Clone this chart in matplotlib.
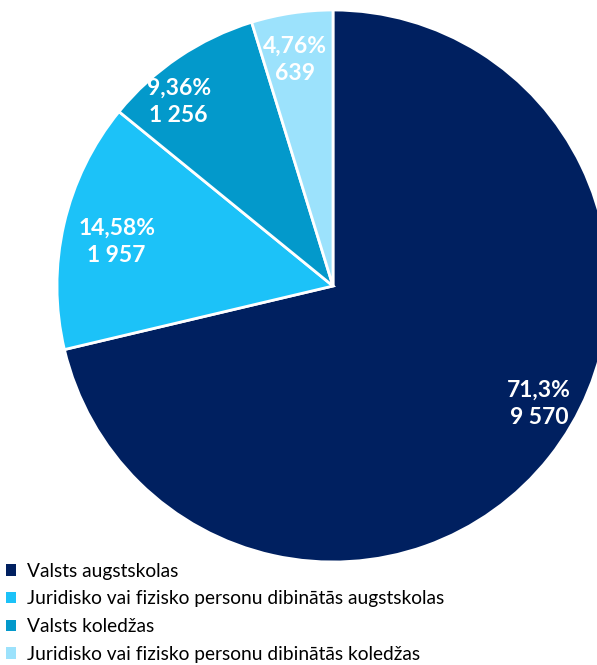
import matplotlib.pyplot as plt
import numpy as np
from matplotlib.patches import Patch

categories = ["Valsts augstskolas",
              "Juridisko vai fizisko personu dibinātās augstskolas",
              "Valsts koledžas",
              "Juridisko vai fizisko personu dibinātās koledžas"]
counts = [9570, 1957, 1256, 639]
pct_labels = ["71,3%", "14,58%", "9,36%", "4,76%"]
count_labels = ["9 570", "1 957", "1 256", "639"]
colors = ["#002060", "#1CC2F8", "#0399CB", "#9CE2FC"]

plt.rcParams['font.family'] = ['Lato', 'DejaVu Sans']

fig = plt.figure(figsize=(5.97, 6.65), dpi=100)
# pie axes runs a bit past the right edge, like the original
ax = fig.add_axes([57 / 597, 103 / 665, 552 / 597, 552 / 665])

wedges, _ = ax.pie(counts, colors=colors, startangle=90, counterclock=False,
                   radius=1.0, wedgeprops=dict(edgecolor="white", linewidth=2))
ax.set_xlim(-1, 1)
ax.set_ylim(-1, 1)
ax.set_aspect("equal")
ax.axis("off")

# label placement: radius and angle tweak per wedge
label_r = [0.86, 0.80, 0.87, 0.83]
angle_shift = [8.5, 1.5, 6.0, 1.0]
for w, p, c, r, sh in zip(wedges, pct_labels, count_labels, label_r, angle_shift):
    mid = np.deg2rad((w.theta1 + w.theta2) / 2 + sh)
    ax.text(r * np.cos(mid), r * np.sin(mid), p + "\n" + c, ha="center", va="center",
            color="white", fontsize=16.5, fontweight="bold", linespacing=1.38)

handles = [Patch(facecolor=col, edgecolor="none") for col in colors]
fig.legend(handles, categories, loc="upper left", bbox_to_anchor=(0.0, 1 - 557 / 665),
           frameon=False, fontsize=13.8, handlelength=0.55, handleheight=0.55,
           handletextpad=0.55, labelspacing=0.56, borderaxespad=0, borderpad=0.3)

plt.savefig("out.png", dpi=100)
